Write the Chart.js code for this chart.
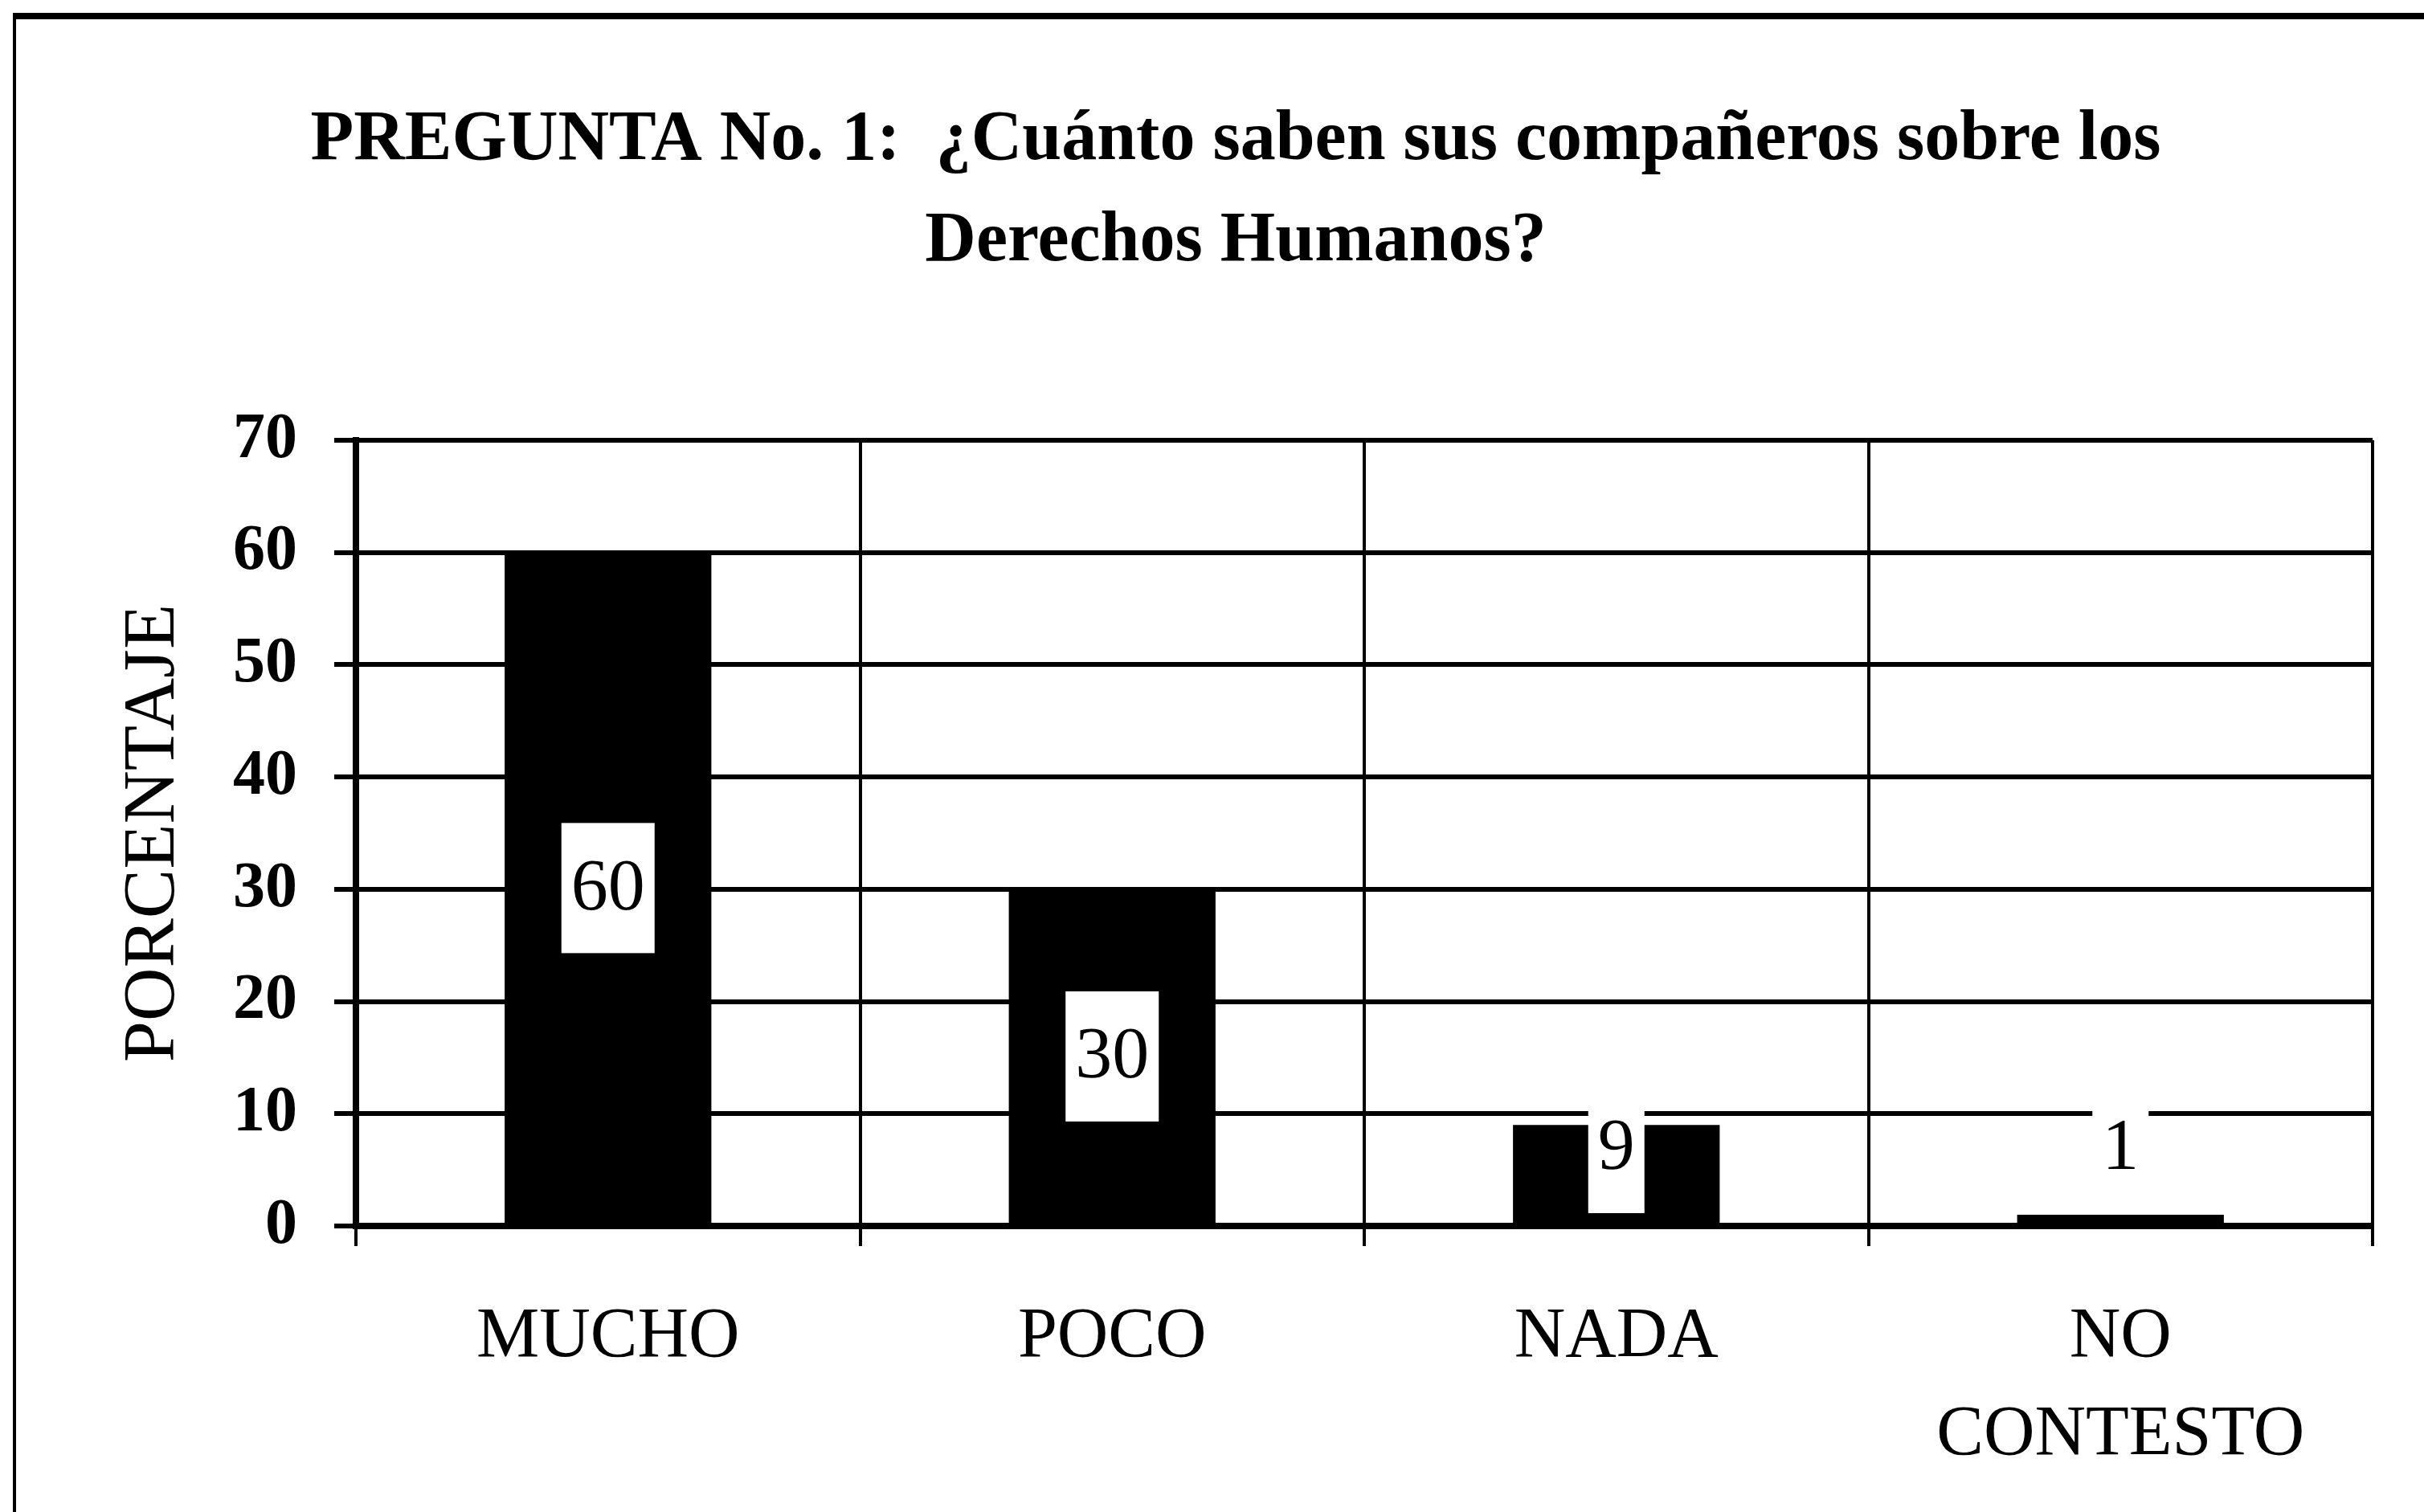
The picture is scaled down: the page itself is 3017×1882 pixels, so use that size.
<!DOCTYPE html>
<html>
<head>
<meta charset="utf-8">
<script src="https://cdn.jsdelivr.net/npm/chart.js@4.4.1/dist/chart.umd.min.js"></script>
<style>
  html, body { margin: 0; padding: 0; background: #ffffff; }
  #wrap { position: relative; width: 3017px; height: 1882px; overflow: hidden; background: #fff; }
  #frame { position: absolute; left: 16px; top: 16px; width: 3100px; height: 2000px;
           border-top: 8px solid #000; border-left: 4px solid #000; box-sizing: border-box; pointer-events: none; }
  canvas { position: absolute; left: 0; top: 0; }
</style>
</head>
<body>
<div id="wrap">
  <canvas id="c" width="3017" height="1882"></canvas>
  <div id="frame"></div>
</div>
<script>
const titleLines = ['PREGUNTA No. 1:  \u00bfCu\u00e1nto saben sus compa\u00f1eros sobre los', 'Derechos Humanos?'];
const categories = ['MUCHO', 'POCO', 'NADA', ['NO', 'CONTESTO']];
const percentages = [60, 30, 9, 1];
const yAxisTitle = 'PORCENTAJE';
const yMin = 0, yMax = 70, yStep = 10;

const SERIF = "'Liberation Serif', 'Times New Roman', serif";

const valueLabels = {
  id: 'valueLabels',
  afterDatasetsDraw(chart) {
    const ctx = chart.ctx;
    const meta = chart.getDatasetMeta(0);
    const data = chart.data.datasets[0].data;
    ctx.save();
    ctx.font = "92px " + SERIF;
    ctx.textAlign = 'center';
    ctx.textBaseline = 'middle';
    meta.data.forEach((bar, i) => {
      const txt = String(data[i]);
      const w = ctx.measureText(txt).width + 24;
      const h = 162;
      const mid = (bar.y + bar.base) / 2;
      const cy = Math.min(mid, bar.base - 94);
      ctx.fillStyle = '#ffffff';
      ctx.fillRect(bar.x - w / 2, cy - h / 2, w, h);
      ctx.fillStyle = '#000000';
      ctx.fillText(txt, bar.x, cy + 2);
    });
    ctx.restore();
  }
};

const whiteBg = {
  id: 'whiteBg',
  beforeDraw(chart) {
    const ctx = chart.ctx;
    ctx.save();
    ctx.fillStyle = '#fff';
    ctx.fillRect(0, 0, chart.width, chart.height);
    ctx.restore();
  }
};

new Chart(document.getElementById('c'), {
  type: 'bar',
  data: {
    labels: categories,
    datasets: [{
      data: percentages,
      backgroundColor: '#000000',
      borderWidth: 0,
      barPercentage: 0.41,
      categoryPercentage: 1.0
    }]
  },
  options: {
    responsive: false,
    animation: false,
    devicePixelRatio: 1,
    layout: { padding: { left: 123, right: 64, top: 0, bottom: 0 } },
    plugins: {
      legend: { display: false },
      tooltip: { enabled: false },
      title: {
        display: true,
        text: titleLines,
        color: '#000',
        font: { family: SERIF, size: 88, weight: 'bold', lineHeight: 1.432 },
        padding: { top: 112, bottom: 184 }
      }
    },
    scales: {
      x: {
        grid: { color: '#000', lineWidth: 4, tickLength: 25, drawTicks: true, offset: true },
        border: { display: true, color: '#000', width: 8 },
        ticks: {
          color: '#000',
          font: { family: SERIF, size: 88, lineHeight: 1.386 },
          padding: 53,
          maxRotation: 0, autoSkip: false
        },
        afterFit(scale) { scale.height = 1882 - 1526; }
      },
      y: {
        min: yMin, max: yMax,
        grid: { color: '#000', lineWidth: 6, tickLength: 27, drawTicks: true },
        border: { display: true, color: '#000', width: 8 },
        ticks: {
          stepSize: yStep,
          color: '#000',
          font: { family: SERIF, size: 80, weight: 'bold' },
          padding: 46
        },
        title: {
          display: true,
          text: yAxisTitle,
          color: '#000',
          font: { family: SERIF, size: 92, lineHeight: 1.2 },
          padding: { top: 14, bottom: 0 }
        },
        afterFit(scale) { scale.width = 443 - 123; }
      }
    }
  },
  plugins: [whiteBg, valueLabels]
});
</script>
</body>
</html>
